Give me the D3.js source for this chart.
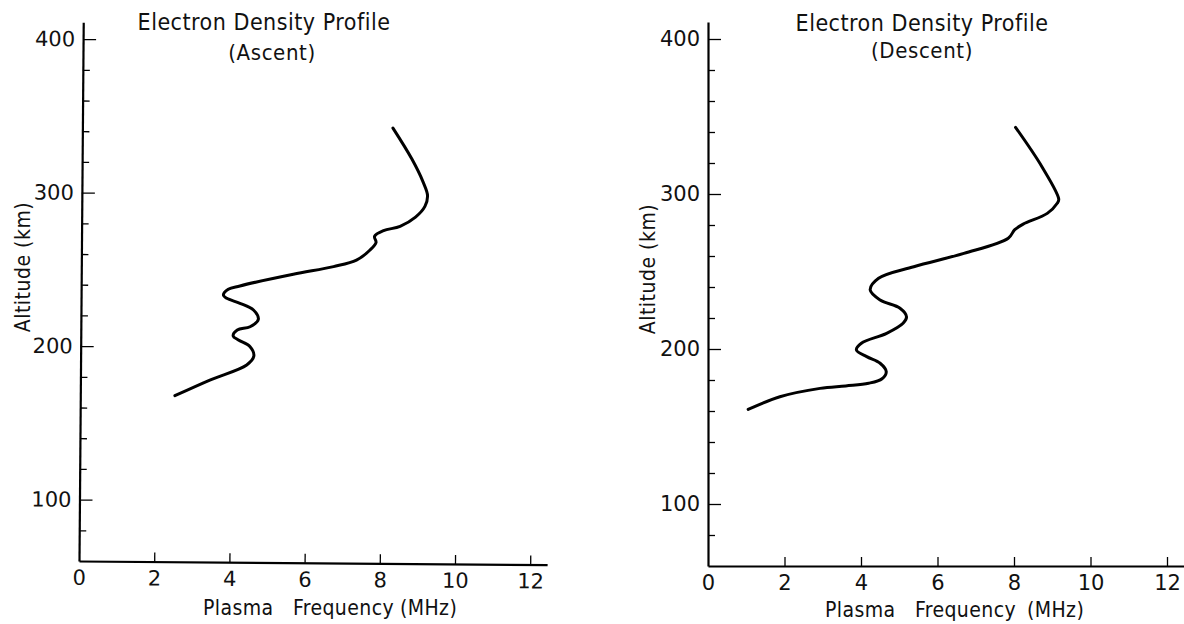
<!DOCTYPE html>
<html>
<head>
<meta charset="utf-8">
<script src="https://cdn.jsdelivr.net/npm/d3@7/dist/d3.min.js"></script>
<style>
  body { margin: 0; background: #fff; }
  svg { display: block; }
</style>
</head>
<body>
<div id="chart"></div>
<script>
// tick values
var xTicks = [0, 2, 4, 6, 8, 10, 12];
var yMajorTicks = [100, 200, 300, 400];
var yMinorTicks = [80, 120, 140, 160, 180, 220, 240, 260, 280, 320, 340, 360, 380];

// ascent profile (plasma frequency MHz, altitude km)
var ascentFreq = [2.55, 3.48, 4.46, 4.65, 4.55, 4.24, 4.10, 4.21, 4.55, 4.77, 4.64, 4.28, 3.93, 3.84, 3.97, 4.28, 5.70, 6.77, 7.38, 7.74, 7.90, 7.86, 8.10, 8.54, 8.95, 9.20, 9.27, 9.15, 8.85, 8.35];
var ascentAlt  = [167.7, 177.9, 187.7, 193.5, 199.6, 204, 206.6, 210.5, 212.6, 217.5, 223.5, 227.9, 231.1, 233.3, 237, 239.2, 246.8, 251.8, 256, 262.6, 267.5, 271.5, 275.2, 278, 284, 291, 298, 307, 322, 342];

// descent profile
var descentFreq = [1.05, 1.88, 2.93, 3.60, 4.20, 4.55, 4.66, 4.50, 4.15, 3.88, 4.01, 4.67, 5.10, 5.19, 5.02, 4.50, 4.24, 4.46, 5.38, 6.69, 7.85, 8.02, 8.24, 8.87, 9.13, 9.17, 8.73, 8.04];
var descentAlt  = [161, 169.2, 174.6, 176.2, 177.9, 180.8, 185.4, 190.8, 195.1, 199.4, 203.7, 210.1, 216.6, 220.8, 226.3, 231.6, 238.1, 245.6, 253.1, 261.7, 271.5, 277, 280.6, 287.5, 294, 296.6, 317.6, 343];

var width = 1184, height = 624;

var svg = d3.select("#chart")
    .append("svg")
        .attr("width", width)
        .attr("height", height);

function drawPanel(p){
    var x = d3.scaleLinear().domain([0, p.xMax]).range([p.left, p.left + p.pxPerMHz * p.xMax]);
    var y = d3.scaleLinear().domain([60, 411]).range([p.bottom, p.bottom - p.pxPerKm * 351]);

    var g = svg.append("g");
    var frame = g.append("g")
        .attr("transform", "rotate(" + p.tilt + "," + p.left + "," + p.bottom + ")");

    // X axis, ticks pointing up into the plot
    var xAxis = frame.append("g")
        .attr("transform", "translate(0," + p.bottom + ")")
        .call(d3.axisBottom(x).tickValues(xTicks).tickSize(-9).tickSizeOuter(0).tickPadding(9));

    // Y axis, major and minor ticks
    frame.append("g")
        .attr("transform", "translate(" + p.left + ",0)")
        .call(d3.axisLeft(y).tickValues(yMajorTicks).tickSize(-13).tickSizeOuter(0).tickPadding(8));
    frame.append("g")
        .attr("transform", "translate(" + p.left + ",0)")
        .call(d3.axisLeft(y).tickValues(yMinorTicks).tickSize(-7).tickSizeOuter(0).tickFormat(""))
        .select(".domain").remove();

    frame.selectAll(".domain").attr("stroke", "#000").attr("stroke-width", 2.2);
    frame.selectAll(".tick line").attr("stroke", "#000").attr("stroke-width", 1.3);
    frame.selectAll(".tick text")
        .attr("font-family", "DejaVu Sans")
        .attr("font-size", "21px")
        .attr("fill", "#111");
    xAxis.selectAll(".tick line").filter(function(d){ return d === 0; }).remove();

    // curve
    var pts = p.freq.map(function(f, i){ return [f, p.alt[i]]; });
    var line = d3.line()
        .x(function(d){ return x(d[0]); })
        .y(function(d){ return y(d[1]); })
        .curve(d3.curveCatmullRom.alpha(0.5));
    g.append("path")
        .datum(pts)
        .attr("fill", "none")
        .attr("stroke", "#000")
        .attr("stroke-width", 3)
        .attr("stroke-linecap", "round")
        .attr("stroke-linejoin", "round")
        .attr("d", line);

    // Titles
    g.append("text")
        .attr("x", p.titleX)
        .attr("y", p.titleY)
        .attr("text-anchor", "middle")
        .attr("font-family", "DejaVu Sans Condensed")
        .attr("font-size", "23px")
        .attr("letter-spacing", "0.5px")
        .attr("fill", "#111")
        .text("Electron Density Profile");
    g.append("text")
        .attr("x", p.subX)
        .attr("y", p.subY)
        .attr("text-anchor", "middle")
        .attr("font-family", "DejaVu Sans Condensed")
        .attr("font-size", "22px")
        .attr("letter-spacing", "0.6px")
        .attr("fill", "#111")
        .text(p.subtitle);

    // Y label
    g.append("text")
        .attr("transform", "translate(" + p.yLabelX + "," + p.yLabelY + ") rotate(-90)")
        .attr("text-anchor", "middle")
        .attr("font-family", "DejaVu Sans Condensed")
        .attr("font-size", "21px")
        .attr("letter-spacing", "0.5px")
        .attr("fill", "#111")
        .text("Altitude (km)");

    // X label
    var xl = g.append("text")
        .attr("y", p.xLabelY)
        .attr("font-family", "DejaVu Sans Condensed")
        .attr("font-size", "21px")
        .attr("letter-spacing", "0.4px")
        .attr("fill", "#111");
    ["Plasma", "Frequency", "(MHz)"].forEach(function(w, i){
        xl.append("tspan").attr("x", p.left + p.xLabelOffsets[i]).text(w);
    });
}

drawPanel({
    left: 79, bottom: 561, pxPerMHz: 37.6, pxPerKm: 1.535, xMax: 12.45, tilt: 0.45,
    freq: ascentFreq, alt: ascentAlt,
    titleX: 264, titleY: 30, subX: 272, subY: 60, subtitle: "(Ascent)",
    yLabelX: 30, yLabelY: 267,
    xLabelY: 615, xLabelOffsets: [124, 214, 321]
});

drawPanel({
    left: 708, bottom: 566, pxPerMHz: 38.25, pxPerKm: 1.55, xMax: 12.5, tilt: 0,
    freq: descentFreq, alt: descentAlt,
    titleX: 922, titleY: 31, subX: 922, subY: 58, subtitle: "(Descent)",
    yLabelX: 655, yLabelY: 269,
    xLabelY: 617, xLabelOffsets: [117, 207, 319]
});
</script>
</body>
</html>
